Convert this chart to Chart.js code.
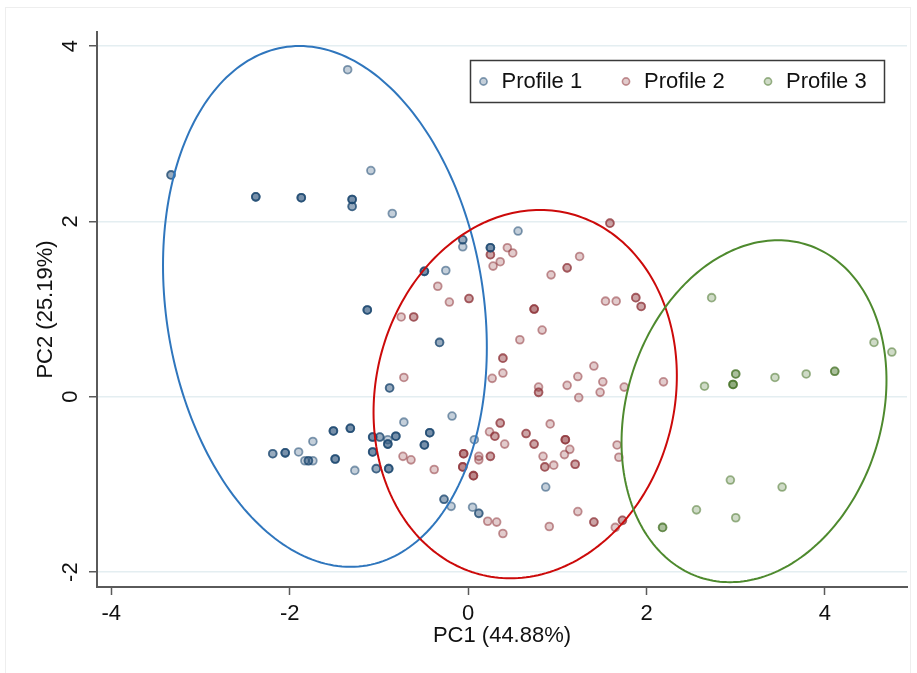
<!DOCTYPE html>
<html>
<head>
<meta charset="utf-8">
<title>PCA profiles</title>
<script src="https://cdn.jsdelivr.net/npm/chart.js@4.4.1/dist/chart.umd.min.js"></script>
<style>
  html, body { margin: 0; padding: 0; background: #fff; }
  #wrap { width: 917px; height: 673px; }
</style>
</head>
<body>
<div id="wrap"><canvas id="pca" width="917" height="673"></canvas></div>
<script>
// Profile 1 scores (n = how many observations sit on the same spot)
const p1x = [-1.35, -3.33, -2.38, -1.87, -1.30, -1.30, -1.09, -0.85, -0.06, -0.06,
             0.25, -0.49, -0.25, -1.13, -0.32, -0.88, 0.56, -0.72, -1.51, -1.32,
             -1.74, -2.19, -2.05, -1.90, -1.83, -1.79, -1.74, -1.49, -1.27, -1.07,
             -0.99, -0.90, -0.90, -0.81, -1.07, -1.03, -0.89, -0.43, -0.49, -0.18,
             0.07, -0.27, -0.19, 0.05, 0.12, 0.87];
const p1y = [3.73, 2.53, 2.28, 2.27, 2.25, 2.17, 2.58, 2.09, 1.79, 1.71,
             1.70, 1.43, 1.44, 0.99, 0.62, 0.10, 1.89, -0.29, -0.39, -0.36,
             -0.51, -0.65, -0.64, -0.63, -0.73, -0.73, -0.73, -0.71, -0.84, -0.46,
             -0.46, -0.54, -0.49, -0.45, -0.63, -0.82, -0.82, -0.41, -0.55, -0.22,
             -0.49, -1.17, -1.25, -1.26, -1.33, -1.03];
const p1n = [1, 2, 3, 3, 3, 2, 1, 1, 2, 1,
             3, 3, 1, 3, 2, 2, 1, 1, 3, 3,
             1, 2, 3, 1, 1, 2, 1, 3, 1, 3,
             2, 3, 1, 3, 3, 2, 3, 3, 3, 1,
             1, 2, 1, 1, 2, 1];

// Profile 2
const p2x = [0.25, 0.44, 0.36, 0.28, -0.34, -0.21, 0.01, -0.75, -0.61, -0.72,
             0.39, 0.39, 0.27, 1.59, 0.50, 1.25, 1.11, 0.93, 1.54, 1.66,
             1.88, 1.94, 0.74, 0.83, 0.58, 0.79, 0.79, 1.23, 1.11, 1.41,
             1.51, 1.75, 2.19, 1.24, 1.48, 0.36, 0.24, 0.30, 0.41, -0.05,
             0.12, 0.12, 0.25, -0.06, 0.06, 0.65, 0.74, 0.92, 1.09, 1.14,
             1.08, 0.84, 0.86, 0.96, 1.20, 1.67, 1.69, 0.22, 0.32, 0.39,
             0.91, 1.23, 1.41, 1.65, 1.73, -0.73, -0.64, -0.38];
const p2y = [1.62, 1.70, 1.54, 1.49, 1.26, 1.08, 1.12, 0.91, 0.91, 0.22,
             0.44, 0.27, 0.21, 1.98, 1.64, 1.60, 1.47, 1.39, 1.09, 1.09,
             1.13, 1.03, 1.00, 0.76, 0.65, 0.11, 0.05, 0.23, 0.13, 0.35,
             0.17, 0.11, 0.17, -0.01, 0.05, -0.30, -0.40, -0.45, -0.54, -0.65,
             -0.68, -0.72, -0.68, -0.80, -0.90, -0.42, -0.54, -0.31, -0.49, -0.60,
             -0.66, -0.68, -0.80, -0.78, -0.77, -0.55, -0.69, -1.42, -1.43, -1.56,
             -1.48, -1.31, -1.43, -1.49, -1.41, -0.68, -0.72, -0.83];
const p2n = [2, 1, 1, 1, 1, 1, 2, 1, 2, 1,
             2, 1, 1, 2, 1, 1, 2, 1, 1, 1,
             2, 2, 3, 1, 1, 1, 2, 1, 1, 1,
             1, 1, 1, 1, 1, 2, 1, 2, 1, 3,
             1, 1, 2, 3, 3, 2, 2, 1, 3, 1,
             1, 1, 2, 1, 2, 1, 1, 1, 1, 1,
             1, 1, 2, 1, 2, 1, 1, 1];

// Profile 3
const p3x = [2.73, 4.55, 4.75, 3.00, 2.97, 2.65, 3.44, 3.79, 4.11, 2.94, 3.52, 2.56, 3.00, 2.18];
const p3y = [1.13, 0.62, 0.51, 0.26, 0.14, 0.12, 0.22, 0.26, 0.29, -0.95, -1.03, -1.29, -1.38, -1.49];
const p3n = [1, 1, 1, 2, 3, 1, 1, 1, 2, 1, 1, 1, 1, 2];

const profileNames = ['Profile 1', 'Profile 2', 'Profile 3'];
const xTicks = [-4, -2, 0, 2, 4];
const yTicks = [-2, 0, 2, 4];

// confidence ellipses: centre, half width, half height, x offset of the top point
const ellCx = [-1.605, 0.64, 3.205];
const ellCy = [1.03, 0.03, -0.165];
const ellRx = [1.815, 1.70, 1.485];
const ellRy = [2.97, 2.10, 1.95];
const ellShift = [-0.285, 0.167, 0.27];

const FONT = 'Arial, "Liberation Sans", Helvetica, sans-serif';
const markRgb = ['26,71,111', '144,53,59', '70,115,40'];
const ellColors = ['#2f76bd', '#cc0a0a', '#4e8a2e'];

function toPoints(xs, ys, ns) {
    const pts = [];
    xs.forEach((x, i) => {
        for (let k = 0; k < ns[i]; k++) pts.push({ x: x, y: ys[i] });
    });
    return pts;
}

function makeSet(i, pts) {
    return {
        label: profileNames[i],
        data: pts,
        pointRadius: 3.9,
        pointBorderWidth: 1.8,
        backgroundColor: 'rgba(' + markRgb[i] + ',0.26)',
        borderColor: 'rgba(' + markRgb[i] + ',0.52)'
    };
}

const decorPlugin = {
    id: 'decor',
    beforeDraw(chart) {
        const ctx = chart.ctx;
        ctx.save();
        ctx.fillStyle = '#fff';
        ctx.fillRect(0, 0, chart.width, chart.height);
        ctx.strokeStyle = '#eeeeee';
        ctx.lineWidth = 1;
        ctx.strokeRect(5.5, 7.5, 905, 670);
        ctx.restore();
    },
    afterDatasetsDraw(chart) {
        const { ctx, scales: { x, y } } = chart;
        ctx.save();
        ctx.lineWidth = 2;
        for (let i = 0; i < ellCx.length; i++) {
            const a = Math.sqrt(ellRx[i] * ellRx[i] - ellShift[i] * ellShift[i]);
            ctx.beginPath();
            for (let s = 0; s <= 240; s++) {
                const t = s / 240 * 2 * Math.PI;
                const px = x.getPixelForValue(ellCx[i] + a * Math.cos(t) + ellShift[i] * Math.sin(t));
                const py = y.getPixelForValue(ellCy[i] + ellRy[i] * Math.sin(t));
                if (s === 0) ctx.moveTo(px, py); else ctx.lineTo(px, py);
            }
            ctx.closePath();
            ctx.strokeStyle = ellColors[i];
            ctx.stroke();
        }
        ctx.restore();
    },
    afterDraw(chart) {
        const ctx = chart.ctx;
        const ys = chart.scales.y;
        ctx.save();
        ctx.fillStyle = '#111';
        ctx.font = '22px ' + FONT;
        ctx.textAlign = 'center';
        ctx.textBaseline = 'middle';
        // y tick labels, turned like the original
        ys.ticks.forEach(t => {
            ctx.save();
            ctx.translate(70, ys.getPixelForValue(t.value));
            ctx.rotate(-Math.PI / 2);
            ctx.fillText(String(t.value), 0, 1);
            ctx.restore();
        });

        // legend box
        ctx.fillStyle = '#fff';
        ctx.fillRect(470.5, 60.5, 414, 42);
        ctx.strokeStyle = '#3a3a3a';
        ctx.lineWidth = 1.5;
        ctx.strokeRect(470.5, 60.5, 414, 42);
        const markX = [483.5, 626, 768];
        ctx.textAlign = 'left';
        chart.data.datasets.forEach((ds, i) => {
            ctx.beginPath();
            ctx.arc(markX[i], 81.5, 3.6, 0, 2 * Math.PI);
            ctx.fillStyle = ds.backgroundColor;
            ctx.fill();
            ctx.lineWidth = 1.6;
            ctx.strokeStyle = ds.borderColor;
            ctx.stroke();
            ctx.fillStyle = '#111';
            ctx.fillText(ds.label, markX[i] + 18, 82);
        });
        ctx.restore();
    }
};

document.addEventListener('DOMContentLoaded', function () {
    const axisGray = '#5a5a5a';
    new Chart(document.getElementById('pca'), {
        type: 'scatter',
        data: {
            datasets: [
                makeSet(0, toPoints(p1x, p1y, p1n)),
                makeSet(1, toPoints(p2x, p2y, p2n)),
                makeSet(2, toPoints(p3x, p3y, p3n))
            ]
        },
        options: {
            responsive: false,
            animation: false,
            events: [],
            layout: { padding: { top: 32, right: 10, left: 0, bottom: 0 } },
            plugins: { legend: { display: false }, tooltip: { enabled: false } },
            scales: {
                x: {
                    type: 'linear',
                    min: -4.16,
                    max: 4.92,
                    afterBuildTicks: s => { s.ticks = xTicks.map(v => ({ value: v })); },
                    afterFit: s => { s.height = 86; },
                    grid: { drawOnChartArea: false, drawTicks: true, tickLength: 8, tickColor: axisGray, tickWidth: 1.5 },
                    border: { display: true, color: axisGray, width: 2 },
                    ticks: { color: '#111', font: { size: 22, family: FONT }, padding: 6, maxRotation: 0 },
                    title: { display: true, text: 'PC1 (44.88%)', color: '#111', font: { size: 22, family: FONT }, padding: { bottom: 24 } }
                },
                y: {
                    type: 'linear',
                    min: -2.17,
                    max: 4.16,
                    afterBuildTicks: s => { s.ticks = yTicks.map(v => ({ value: v })); },
                    afterFit: s => { s.width = 97; },
                    grid: { color: '#e4eef1', lineWidth: 1.5, drawTicks: true, tickLength: 8, tickColor: axisGray, tickWidth: 1.5 },
                    border: { display: true, color: axisGray, width: 2 },
                    ticks: { display: false },
                    title: { display: true, text: 'PC2 (25.19%)', color: '#111', font: { size: 22, family: FONT }, padding: { top: 33 } }
                }
            }
        },
        plugins: [decorPlugin]
    });
});
</script>
</body>
</html>
